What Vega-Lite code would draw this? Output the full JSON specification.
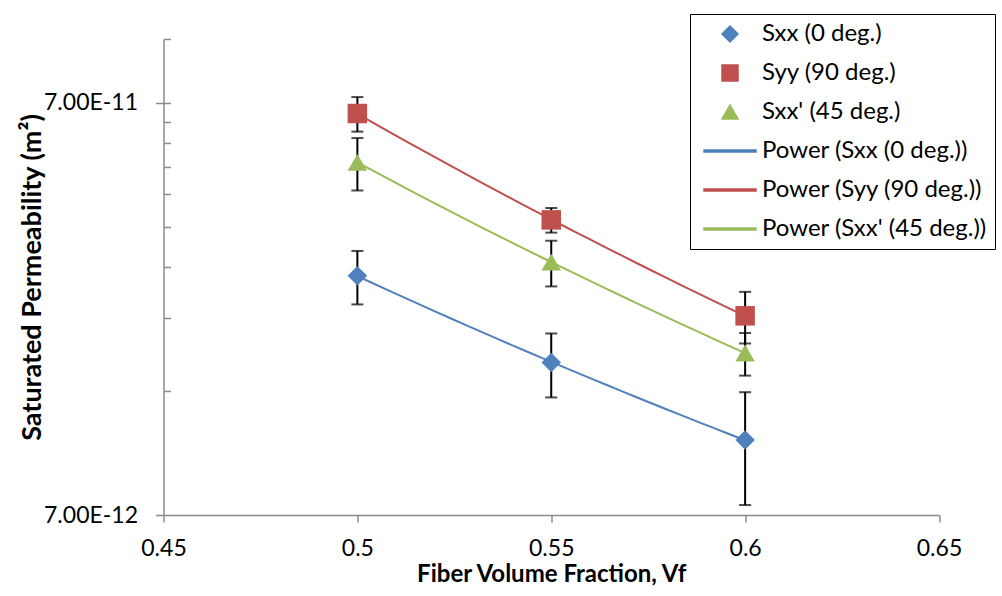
{
  "$schema": "https://vega.github.io/schema/vega-lite/v6.json",
  "width": 775.5,
  "height": 476,
  "autosize": {"type": "none"},
  "padding": {"left": 163.5, "top": 39, "right": 63, "bottom": 81},
  "background": "white",
  "config": {
    "view": {"stroke": null},
    "font": "Lato",
    "axis": {
      "grid": false,
      "domainColor": "#8a8a8a",
      "domainWidth": 1.5,
      "tickColor": "#8a8a8a",
      "tickWidth": 1.5,
      "labelColor": "black",
      "labelFont": "Lato",
      "labelFontSize": 24,
      "titleColor": "black",
      "titleFont": "Lato",
      "titleFontSize": 24,
      "titleFontWeight": "bold"
    },
    "legend": {
      "orient": "none",
      "legendX": 526.5,
      "legendY": -25,
      "padding": 8,
      "strokeColor": "black",
      "fillColor": "white",
      "labelFont": "Lato",
      "labelFontSize": 24,
      "labelColor": "black",
      "labelLimit": 400,
      "symbolSize": 256,
      "symbolOffset": 20,
      "labelOffset": 20,
      "rowPadding": 15,
      "columns": 1
    }
  },
  "data": {
    "values": [
      {"vf": 0.5, "k": 2.665e-11, "err": 0.395e-11, "series": "Sxx (0 deg.)", "trend": "Power (Sxx (0 deg.))"},
      {"vf": 0.55, "k": 1.64e-11, "err": 0.29e-11, "series": "Sxx (0 deg.)", "trend": "Power (Sxx (0 deg.))"},
      {"vf": 0.6, "k": 1.065e-11, "err": 0.325e-11, "series": "Sxx (0 deg.)", "trend": "Power (Sxx (0 deg.))"},
      {"vf": 0.5, "k": 6.595e-11, "err": 0.635e-11, "series": "Syy (90 deg.)", "trend": "Power (Syy (90 deg.))"},
      {"vf": 0.55, "k": 3.64e-11, "err": 0.25e-11, "series": "Syy (90 deg.)", "trend": "Power (Syy (90 deg.))"},
      {"vf": 0.6, "k": 2.13e-11, "err": 0.305e-11, "series": "Syy (90 deg.)", "trend": "Power (Syy (90 deg.))"},
      {"vf": 0.5, "k": 5.02e-11, "err": 0.73e-11, "series": "Sxx' (45 deg.)", "trend": "Power (Sxx' (45 deg.))"},
      {"vf": 0.55, "k": 2.875e-11, "err": 0.365e-11, "series": "Sxx' (45 deg.)", "trend": "Power (Sxx' (45 deg.))"},
      {"vf": 0.6, "k": 1.73e-11, "err": 0.205e-11, "series": "Sxx' (45 deg.)", "trend": "Power (Sxx' (45 deg.))"}
    ]
  },
  "encoding": {
    "x": {
      "field": "vf",
      "type": "quantitative",
      "scale": {"domain": [0.45, 0.65], "nice": false, "zero": false},
      "axis": {
        "values": [0.45, 0.5, 0.55, 0.6, 0.65],
        "format": "~g",
        "title": "Fiber Volume Fraction, Vf",
        "tickSize": 7,
        "labelFontSize": 23,
        "labelPadding": 15,
        "titlePadding": 2,
        "labelFlush": false
      }
    }
  },
  "layer": [
    {
      "transform": [{"regression": "k", "on": "vf", "method": "pow", "groupby": ["trend"]}],
      "mark": {"type": "line", "strokeWidth": 2},
      "encoding": {
        "y": {
          "field": "k",
          "type": "quantitative",
          "scale": {"type": "log", "domain": [7e-12, 1e-10], "nice": false},
          "axis": {
            "orient": "left",
            "values": [1.4e-11, 2.1e-11, 2.8e-11, 3.5e-11, 4.2e-11, 4.9e-11, 5.6e-11, 6.3e-11, 7e-11, 1e-10],
            "tickSize": -7,
            "labels": false,
            "title": null,
            "domain": true
          }
        },
        "color": {
          "field": "trend",
          "type": "nominal",
          "scale": {
            "domain": ["Sxx (0 deg.)", "Syy (90 deg.)", "Sxx' (45 deg.)", "Power (Sxx (0 deg.))", "Power (Syy (90 deg.))", "Power (Sxx' (45 deg.))"],
            "range": ["#4F81BD", "#C0504D", "#9BBB59", "#4F81BD", "#C0504D", "#9BBB59"]
          },
          "legend": {
            "title": null,
            "encode": {
              "symbols": {
                "update": {
                  "fill": {"scale": "color", "field": "value"},
                  "shape": {"scale": "shape", "field": "value"},
                  "stroke": {"value": "transparent"},
                  "opacity": {"value": 1}
                }
              }
            }
          }
        }
      }
    },
    {
      "mark": {
        "type": "errorbar",
        "ticks": {"size": 12, "thickness": 2, "color": "black"},
        "rule": {"strokeWidth": 2, "color": "black"}
      },
      "encoding": {
        "y": {
          "field": "k",
          "type": "quantitative",
          "scale": {"type": "log", "domain": [7e-12, 1e-10], "nice": false},
          "axis": null
        },
        "yError": {"field": "err"}
      }
    },
    {
      "mark": {"type": "point", "filled": true, "size": 380, "opacity": 1},
      "encoding": {
        "y": {
          "field": "k",
          "type": "quantitative",
          "scale": {"type": "log", "domain": [7e-12, 1e-10], "nice": false},
          "axis": {
            "orient": "left",
            "values": [7e-12, 7e-11],
            "tickSize": 8,
            "labelPadding": 18,
            "labelFontSize": 23,
            "labelExpr": "upper(format(datum.value, '.2e'))",
            "title": "Saturated Permeability (m²)",
            "titleFontSize": 27,
            "titlePadding": -3,
            "domain": false
          }
        },
        "color": {
          "field": "series",
          "type": "nominal",
          "scale": {
            "domain": ["Sxx (0 deg.)", "Syy (90 deg.)", "Sxx' (45 deg.)", "Power (Sxx (0 deg.))", "Power (Syy (90 deg.))", "Power (Sxx' (45 deg.))"],
            "range": ["#4F81BD", "#C0504D", "#9BBB59", "#4F81BD", "#C0504D", "#9BBB59"]
          },
          "legend": {
            "title": null,
            "encode": {
              "symbols": {
                "update": {
                  "fill": {"scale": "color", "field": "value"},
                  "shape": {"scale": "shape", "field": "value"},
                  "stroke": {"value": "transparent"},
                  "opacity": {"value": 1}
                }
              }
            }
          }
        },
        "shape": {
          "field": "series",
          "type": "nominal",
          "scale": {
            "domain": ["Sxx (0 deg.)", "Syy (90 deg.)", "Sxx' (45 deg.)", "Power (Sxx (0 deg.))", "Power (Syy (90 deg.))", "Power (Sxx' (45 deg.))"],
            "range": ["diamond", "square", "triangle-up", "M-3.25,-0.12H3.25V0.12H-3.25Z", "M-3.25,-0.12H3.25V0.12H-3.25Z", "M-3.25,-0.12H3.25V0.12H-3.25Z"]
          },
          "legend": {"title": null}
        }
      }
    }
  ],
  "resolve": {"axis": {"y": "independent"}}
}
